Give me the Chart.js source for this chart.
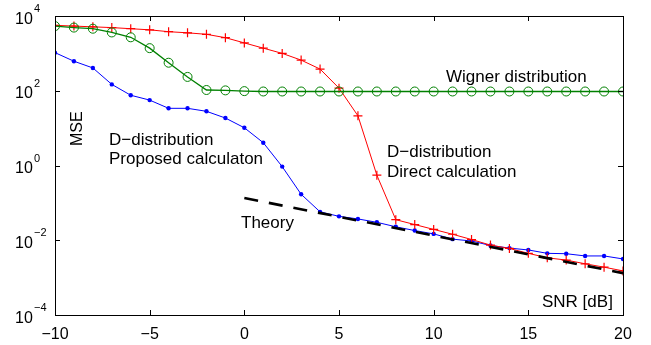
<!DOCTYPE html>
<html>
<head>
<meta charset="utf-8">
<script src="https://cdn.jsdelivr.net/npm/chart.js@4.4.0/dist/chart.umd.min.js"></script>
<style>
  html, body { margin: 0; padding: 0; background: #fff; }
  #wrap { width: 651px; height: 345px; }
</style>
</head>
<body>
<div id="wrap"><canvas id="myChart"></canvas></div>
<script>
// SNR values in dB
const snr = [-10, -9, -8, -7, -6, -5, -4, -3, -2, -1, 0, 1, 2, 3, 4, 5, 6, 7, 8, 9, 10,
             11, 12, 13, 14, 15, 16, 17, 18, 19, 20];

// MSE (log10 of the values)
const directLog = [3.75, 3.73, 3.71, 3.69, 3.66, 3.63, 3.58, 3.55, 3.51, 3.42, 3.28,
                   3.14, 3.00, 2.82, 2.58, 2.07, 1.33, -0.26, -1.45, -1.58, -1.71,
                   -1.84, -1.98, -2.13, -2.22, -2.35, -2.47, -2.53, -2.63, -2.72, -2.82];
const proposedLog = [3.02, 2.79, 2.61, 2.17, 1.88, 1.75, 1.53, 1.53, 1.45, 1.27, 1.01,
                     0.61, -0.03, -0.77, -1.24, -1.36, -1.43, -1.52, -1.64, -1.74, -1.83,
                     -1.97, -2.02, -2.14, -2.21, -2.26, -2.35, -2.36, -2.42, -2.42, -2.50];
const wignerLog = [3.73, 3.69, 3.66, 3.56, 3.43, 3.14, 2.75, 2.37, 2.02, 2.01, 1.99,
                   1.98, 1.98, 1.98, 1.98, 1.98, 1.98, 1.98, 1.98, 1.98, 1.98,
                   1.98, 1.98, 1.98, 1.98, 1.98, 1.98, 1.98, 1.98, 1.98, 1.98];
const theorySnr = [0, 20];
const theoryLog = [-0.87, -2.88];

const xTicks = [-10, -5, 0, 5, 10, 15, 20];
const yTickExp = [-4, -2, 0, 2, 4];

const toPts = (xs, logs) => xs.map((x, i) => ({ x: x, y: Math.pow(10, logs[i]) }));

const FONT = '"Liberation Sans", Arial, Helvetica, sans-serif';

const decor = {
  id: 'decor',
  afterDraw(chart) {
    const c = chart.ctx;
    const a = chart.chartArea;
    const xs = chart.scales.x, ys = chart.scales.y;
    c.save();
    c.strokeStyle = '#000';
    c.lineWidth = 1;
    c.strokeRect(Math.round(a.left) + 0.5, Math.round(a.top) + 0.5,
                 Math.round(a.right - a.left), Math.round(a.bottom - a.top));
    // inner ticks on all four sides
    c.beginPath();
    xTicks.forEach(v => {
      const p = Math.round(xs.getPixelForValue(v)) + 0.5;
      c.moveTo(p, a.bottom); c.lineTo(p, a.bottom - 5);
      c.moveTo(p, a.top); c.lineTo(p, a.top + 5);
    });
    yTickExp.forEach(e => {
      const p = Math.round(ys.getPixelForValue(Math.pow(10, e))) + 0.5;
      c.moveTo(a.left, p); c.lineTo(a.left + 5, p);
      c.moveTo(a.right, p); c.lineTo(a.right - 5, p);
    });
    c.stroke();
    // y tick labels with superscripts
    c.fillStyle = '#000';
    c.textAlign = 'left';
    c.textBaseline = 'alphabetic';
    yTickExp.forEach(e => {
      const p = ys.getPixelForValue(Math.pow(10, e));
      c.font = '16px ' + FONT;
      c.fillText('10', 15, p + 7.5);
      c.font = '11px ' + FONT;
      c.fillText(e < 0 ? '\u2212' + (-e) : String(e), 34, p - 4);
    });
    // text annotations
    c.font = '17px ' + FONT;
    c.fillText('Wigner distribution', 446, 82);
    c.fillText('D\u2212distribution', 387, 157);
    c.fillText('Direct calculation', 387, 177);
    c.fillText('D\u2212distribution', 109, 145);
    c.fillText('Proposed calculaton', 109, 164);
    c.fillText('Theory', 241, 228);
    c.fillText('SNR [dB]', 542, 307);
    c.font = '16px ' + FONT;
    c.translate(82, 146);
    c.rotate(-Math.PI / 2);
    c.fillText('MSE', 0, 0);
    c.restore();
  }
};

new Chart(document.getElementById('myChart'), {
  type: 'line',
  data: {
    datasets: [
      {
        label: 'Theory',
        data: toPts(theorySnr, theoryLog),
        borderColor: '#000',
        borderWidth: 2.6,
        borderDash: [14, 11],
        pointRadius: 0
      },
      {
        label: 'Wigner distribution',
        data: toPts(snr, wignerLog),
        borderColor: '#008000',
        borderWidth: 1.3,
        pointStyle: 'circle',
        pointRadius: 4.5,
        pointBorderWidth: 1,
        pointBackgroundColor: 'rgba(0,0,0,0)',
        pointBorderColor: '#008000'
      },
      {
        label: 'D-distribution direct',
        data: toPts(snr, directLog),
        borderColor: '#ff0000',
        borderWidth: 1,
        pointStyle: 'cross',
        pointRadius: 4.5,
        pointBorderWidth: 1.2,
        pointBorderColor: '#ff0000'
      },
      {
        label: 'D-distribution proposed',
        data: toPts(snr, proposedLog),
        borderColor: '#0000ff',
        borderWidth: 1,
        pointStyle: 'circle',
        pointRadius: 2.2,
        pointBorderWidth: 0,
        pointBackgroundColor: '#0000ff'
      }
    ]
  },
  options: {
    responsive: true,
    maintainAspectRatio: false,
    animation: false,
    layout: { padding: { top: 16, right: 28, left: 0, bottom: 0 } },
    plugins: { legend: { display: false }, tooltip: { enabled: false } },
    scales: {
      x: {
        type: 'linear',
        min: -10, max: 20,
        afterFit: s => { s.height = 30; },
        afterBuildTicks: s => { s.ticks = xTicks.map(v => ({ value: v })); },
        grid: { display: false, drawTicks: false },
        border: { display: false },
        ticks: {
          color: '#000',
          padding: 10,
          font: { family: FONT, size: 16 },
          maxRotation: 0,
          callback: v => String(v).replace('-', '\u2212')
        }
      },
      y: {
        type: 'logarithmic',
        min: 1e-4, max: 1e4,
        afterFit: s => { s.width = 55; },
        afterBuildTicks: s => { s.ticks = yTickExp.map(e => ({ value: Math.pow(10, e) })); },
        grid: { display: false, drawTicks: false },
        border: { display: false },
        ticks: { display: false }
      }
    }
  },
  plugins: [decor]
});
</script>
</body>
</html>
